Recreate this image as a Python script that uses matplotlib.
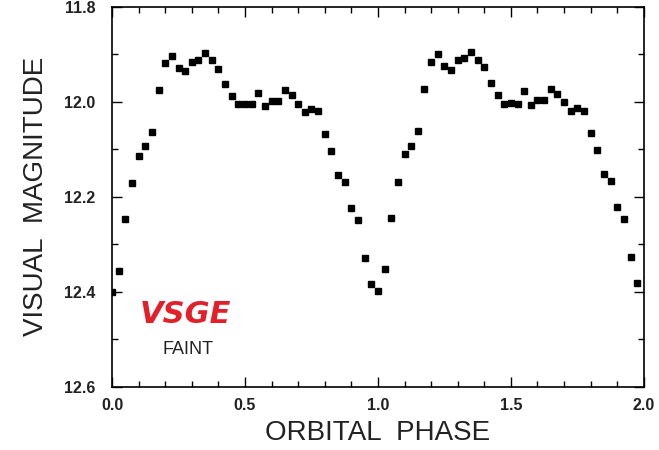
import numpy as np
import matplotlib
matplotlib.use('Agg')
import matplotlib.pyplot as plt
from matplotlib.ticker import MultipleLocator

# light curve, phase step 0.025 (two cycles shown)
phase = [0.0, 0.025, 0.05, 0.075, 0.1, 0.125, 0.15, 0.175, 0.2, 0.225,
         0.25, 0.275, 0.3, 0.325, 0.35, 0.375, 0.4, 0.425, 0.45, 0.475,
         0.5, 0.525, 0.55, 0.575, 0.6, 0.625, 0.65, 0.675, 0.7, 0.725,
         0.75, 0.775, 0.8, 0.825, 0.85, 0.875, 0.9, 0.925, 0.95, 0.975,
         1.0, 1.025, 1.05, 1.075, 1.1, 1.125, 1.15, 1.175, 1.2, 1.225,
         1.25, 1.275, 1.3, 1.325, 1.35, 1.375, 1.4, 1.425, 1.45, 1.475,
         1.5, 1.525, 1.55, 1.575, 1.6, 1.625, 1.65, 1.675, 1.7, 1.725,
         1.75, 1.775, 1.8, 1.825, 1.85, 1.875, 1.9, 1.925, 1.95, 1.975]
mag = [12.400, 12.355, 12.247, 12.170, 12.113, 12.094, 12.064, 11.975, 11.919, 11.904,
       11.929, 11.936, 11.916, 11.912, 11.897, 11.913, 11.930, 11.962, 11.988, 12.005,
       12.004, 12.005, 11.982, 12.009, 11.999, 11.999, 11.975, 11.985, 12.004, 12.022,
       12.015, 12.020, 12.067, 12.104, 12.155, 12.169, 12.224, 12.249, 12.329, 12.383,
       12.398, 12.352, 12.245, 12.169, 12.109, 12.092, 12.061, 11.973, 11.917, 11.900,
       11.925, 11.934, 11.913, 11.908, 11.895, 11.912, 11.927, 11.960, 11.986, 12.004,
       12.003, 12.004, 11.978, 12.007, 11.996, 11.996, 11.973, 11.983, 12.000, 12.019,
       12.013, 12.019, 12.066, 12.102, 12.151, 12.167, 12.222, 12.246, 12.326, 12.382]

xticks = [0.0, 0.5, 1.0, 1.5, 2.0]
yticks = [11.8, 12.0, 12.2, 12.4, 12.6]

plt.rcParams['font.family'] = ['Liberation Sans', 'DejaVu Sans']

fig = plt.figure(figsize=(6.59, 4.5), dpi=100)
ax = fig.add_axes([0.170, 0.140, 0.807, 0.845])

ax.plot(phase, mag, 's', color='black', ms=4.8, mec='black')

ax.set_xlim(0, 2.0)
ax.set_ylim(12.6, 11.8)
ax.set_xticks(xticks)
ax.set_xticklabels(['%.1f' % v for v in xticks])
ax.set_yticks(yticks)
ax.set_yticklabels(['%.1f' % v for v in yticks])
ax.xaxis.set_minor_locator(MultipleLocator(0.1))
ax.yaxis.set_minor_locator(MultipleLocator(0.1))
ax.tick_params(which='both', direction='in', top=True, right=True, width=1.0)
ax.tick_params(which='major', length=7, labelsize=11.5)
ax.tick_params(axis='x', which='major', pad=8)
ax.tick_params(axis='y', which='major', pad=12)
ax.tick_params(which='minor', length=4)
for lab in ax.get_xticklabels() + ax.get_yticklabels():
    lab.set_fontweight('bold')
    lab.set_color('#222222')
for s in ax.spines.values():
    s.set_linewidth(1.2)

ax.set_xlabel('ORBITAL  PHASE', fontsize=20, labelpad=5, color='#222222')
ax.set_ylabel('VISUAL  MAGNITUDE', fontsize=20, labelpad=11, color='#222222')

ax.text(0.105, 12.465, 'VSGE', color='#e3202a', fontsize=22, fontweight='bold',
        style='italic', family='DejaVu Sans')
ax.text(0.19, 12.53, 'FAINT', color='#222222', fontsize=13)

fig.savefig('out.png', dpi=100)
